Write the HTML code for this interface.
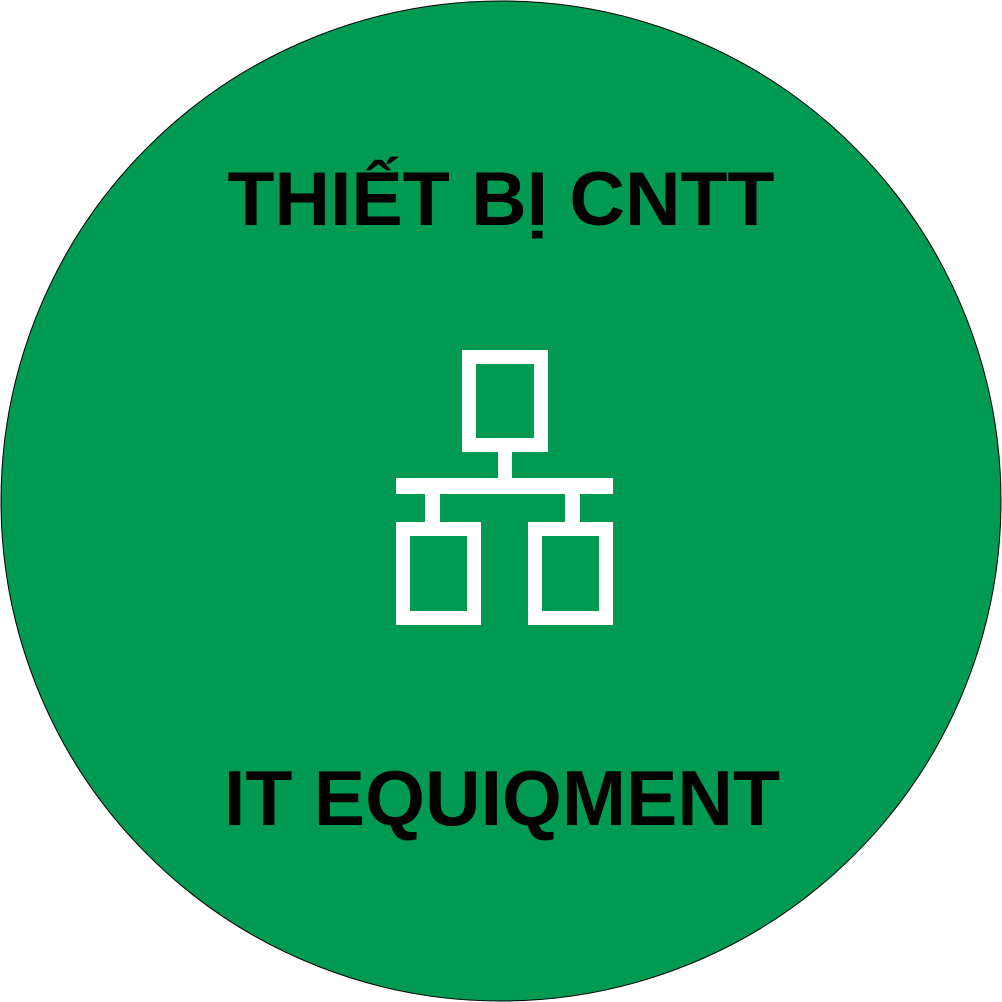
<!DOCTYPE html>
<html><head><meta charset="utf-8"><style>
html,body{margin:0;padding:0;background:#fff;width:1002px;height:1002px;overflow:hidden}
</style></head><body>
<svg width="1002" height="1002" viewBox="0 0 1002 1002" xmlns="http://www.w3.org/2000/svg">
<circle cx="501" cy="501" r="500" fill="#009A52" stroke="#000" stroke-width="1"/>
<text x="501" y="225" text-anchor="middle" font-family="Liberation Sans, sans-serif" font-weight="bold" font-size="76" fill="#000" textLength="547" lengthAdjust="spacingAndGlyphs">THIẾT BỊ CNTT</text>
<text x="502" y="825" text-anchor="middle" font-family="Liberation Sans, sans-serif" font-weight="bold" font-size="78" fill="#000" textLength="556" lengthAdjust="spacingAndGlyphs">IT EQUIQMENT</text>
<g fill="#fff">
<rect x="462" y="350" width="86" height="102"/>
<rect x="498" y="452" width="14" height="28"/>
<rect x="396" y="478" width="217" height="16"/>
<rect x="425" y="494" width="15" height="30"/>
<rect x="565" y="494" width="15" height="30"/>
<rect x="396" y="522" width="85" height="103"/>
<rect x="528" y="522" width="85" height="103"/>
</g>
<g fill="#009A52">
<rect x="476" y="364" width="58" height="74"/>
<rect x="410" y="536" width="57" height="75"/>
<rect x="542" y="536" width="57" height="75"/>
</g>
</svg>
</body></html>
